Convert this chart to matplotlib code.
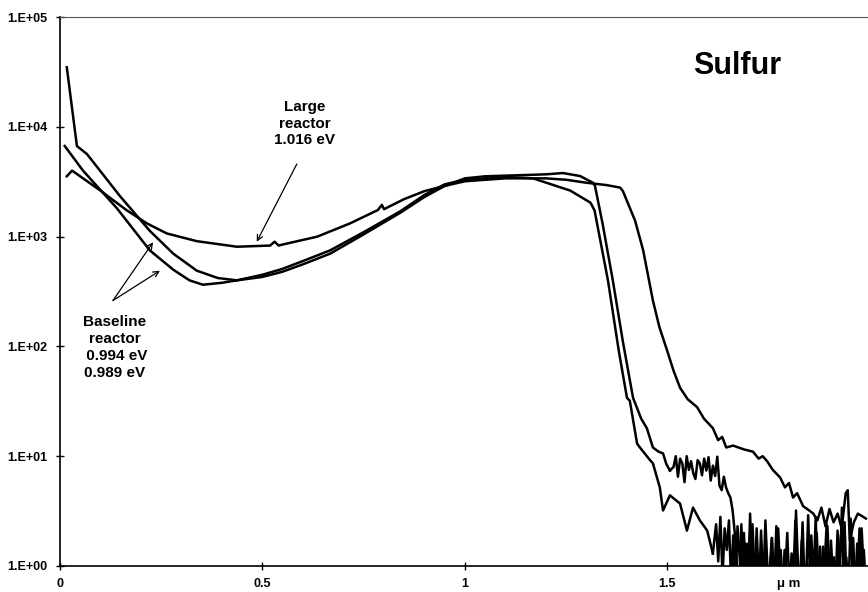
import matplotlib
matplotlib.use('Agg')
import matplotlib.pyplot as plt
import numpy as np

plt.rcParams['font.family'] = ['Liberation Sans', 'DejaVu Sans']
plt.rcParams['font.weight'] = 'bold'

# baseline reactor, curve 1 (highest at the start)
x_base1 = [0.017, 0.042, 0.067, 0.148, 0.222, 0.28, 0.338, 0.39, 0.437, 0.5, 0.55, 0.6, 0.667,
           0.75, 0.84, 0.9, 0.95, 1.0, 1.05, 1.143, 1.2, 1.242, 1.284, 1.316, 1.321,
           1.34, 1.365, 1.39, 1.415, 1.435, 1.449, 1.464, 1.478, 1.489, 1.497, 1.506]
y_base1 = [35000, 6700, 5650, 2350, 1130, 700, 490, 420, 400, 430, 480, 560, 700,
           1050, 1650, 2300, 2900, 3400, 3550, 3640, 3700, 3800, 3570, 3100, 2900,
           1300, 400, 110, 34, 22, 18, 12, 11, 10.6, 8.5, 7.4]
# noisy tail of curve 1
tail_base1 = [8, 10, 6.5, 9.5, 8.6, 5.8, 10, 7.5, 9, 7, 6.2, 9.2, 8.6, 6.7, 9.5, 7.4, 9.8, 6,
              8.2, 6.6, 9.9, 5.4, 4.9, 6.5, 5.2, 4.6, 4.2, 3.2, 2.0, 1.0, 0.6, 2.4, 0.7, 1.6,
              0.6, 3.0, 0.8, 0.6, 2.2, 0.7, 1.2, 0.6, 2.6, 0.9, 0.6, 1.8, 0.6, 2.3, 0.7, 1.4,
              0.6, 0.8, 2.0, 0.6, 1.3, 0.6, 3.2, 0.9, 0.7, 2.5, 0.6, 1.1, 0.6, 1.9, 0.7, 2.8,
              0.6, 1.5, 0.6, 0.9, 2.4, 0.6, 1.7, 0.7, 0.6, 2.1, 0.8, 3.4, 0.6, 1.2, 0.6, 2.7,
              0.7, 0.6, 1.6, 0.6, 2.2, 0.9, 0.6]
x_tail_base1 = np.linspace(1.515, 1.99, len(tail_base1))

# baseline reactor, curve 2
x_base2 = [0.012, 0.057, 0.14, 0.222, 0.28, 0.32, 0.353, 0.4, 0.437, 0.5, 0.55, 0.6, 0.667,
           0.75, 0.84, 0.9, 0.95, 1.0, 1.1, 1.168, 1.26, 1.31, 1.32, 1.353, 1.38, 1.40,
           1.407, 1.425, 1.432, 1.457, 1.464, 1.481, 1.489, 1.506, 1.531, 1.548, 1.563,
           1.58, 1.598, 1.612]
y_base2 = [6700, 4000, 1830, 750, 500, 400, 365, 380, 400, 450, 510, 600, 750,
           1100, 1700, 2400, 3000, 3300, 3500, 3400, 2630, 2040, 1730, 400, 90, 34,
           32, 13, 12, 9.2, 8.6, 5.2, 3.2, 4.4, 3.7, 2.1, 3.4, 2.6, 2.1, 1.3]
tail_base2 = [2.4, 1.1, 2.8, 0.8, 2.2, 1.4, 2.6, 0.7, 1.9, 0.6, 2.3, 1.2, 0.7, 2.0, 0.6, 1.6,
              0.6, 2.4, 0.8, 1.3, 0.6, 2.1, 0.7, 1.5, 0.6, 0.9, 1.8, 0.6, 0.7, 2.2, 0.8, 0.6,
              1.4, 0.7, 0.6, 1.1, 0.6, 2.6, 0.7, 0.6, 1.7, 0.6, 0.7, 2.9, 0.6, 1.3, 0.6, 2.0,
              0.7, 0.6, 1.5, 0.6, 2.3, 0.8, 0.6, 1.2, 0.6, 1.9, 0.6, 0.7, 2.5, 0.6, 1.0, 0.6,
              1.8, 0.6, 0.8, 2.2, 0.6, 1.4, 0.6]
x_tail_base2 = np.linspace(1.62, 1.99, len(tail_base2))

# large reactor
x_large = [0.017, 0.03, 0.1, 0.165, 0.215, 0.264, 0.338, 0.437, 0.519, 0.53, 0.54, 0.551,
           0.635, 0.716, 0.785, 0.795, 0.80, 0.85, 0.9, 0.95, 1.0, 1.1, 1.2, 1.25, 1.3,
           1.35, 1.383, 1.39, 1.42, 1.44, 1.464, 1.48, 1.499, 1.515, 1.531, 1.55, 1.573,
           1.59, 1.612, 1.625, 1.635, 1.645, 1.662, 1.675, 1.69, 1.711, 1.725, 1.735,
           1.746, 1.76, 1.778, 1.79, 1.80, 1.81, 1.82, 1.835, 1.85, 1.86, 1.87, 1.88,
           1.89, 1.90, 1.91, 1.92, 1.93, 1.94, 1.945, 1.95, 1.96, 1.97, 1.99]
y_large = [3550, 4000, 2630, 1740, 1320, 1070, 910, 810, 830, 900, 830, 850,
           1000, 1320, 1750, 1950, 1780, 2200, 2600, 2900, 3200, 3400, 3400, 3300, 3100,
           2950, 2800, 2600, 1400, 750, 262, 150, 92, 60, 42, 33, 28,
           22, 18, 14, 15, 12, 12.5, 12, 11.5, 11, 9.5, 10,
           9, 7.5, 6.4, 5.2, 5.7, 4.2, 4.6, 3.5, 3.2, 3.0, 2.6, 3.4,
           2.3, 3.3, 2.5, 3.0, 2.2, 4.6, 4.9, 1.7, 2.5, 3.0, 2.7]

xticks = [0, 0.5, 1, 1.5]
xtick_labels = ['0', '0.5', '1', '1.5']
yticks = [1, 10, 100, 1000, 10000, 100000]
ytick_labels = ['1.E+00', '1.E+01', '1.E+02', '1.E+03', '1.E+04', '1.E+05']

fig = plt.figure(figsize=(8.68, 5.92), dpi=100)
ax = fig.add_axes([0.069, 0.044, 0.931, 0.927])

lw = 1.8
ax.plot(x_base1, y_base1, color='black', lw=lw)
ax.plot([x_base1[-1]] + list(x_tail_base1), [y_base1[-1]] + tail_base1, color='black', lw=lw)
ax.plot(x_base2, y_base2, color='black', lw=lw)
ax.plot([x_base2[-1]] + list(x_tail_base2), [y_base2[-1]] + tail_base2, color='black', lw=lw)
ax.plot(x_large, y_large, color='black', lw=lw)

ax.set_yscale('log')
ax.set_xlim(0, 1.995)
ax.set_ylim(1, 1e5)
ax.set_xticks(xticks)
ax.set_xticklabels(xtick_labels)
ax.set_yticks(yticks)
ax.set_yticklabels(ytick_labels)
ax.minorticks_off()
ax.tick_params(direction='inout', length=6, width=1, labelsize=9, pad=6)
for lab in ax.get_xticklabels() + ax.get_yticklabels():
    lab.set_fontweight('bold')

ax.spines['right'].set_visible(False)
ax.spines['top'].set_linewidth(0.8)
ax.spines['top'].set_color('#555555')
ax.spines['left'].set_linewidth(1.2)
ax.spines['bottom'].set_linewidth(1.2)

ax.text(1.672, 3.6e4, 'Sulfur', fontsize=22, fontweight='bold', ha='center', va='center')

ax.text(0.605, 1.07e4, 'Large\nreactor\n1.016 eV', ha='center', va='center',
        fontsize=11, fontweight='bold', linespacing=1.25)
ax.annotate('', xy=(0.486, 900), xytext=(0.585, 4600),
            arrowprops=dict(arrowstyle='->', color='black', lw=0.9, shrinkA=0, shrinkB=0))

ax.text(0.136, 98, 'Baseline\nreactor\n 0.994 eV\n0.989 eV', ha='center', va='center',
        fontsize=11, fontweight='bold', linespacing=1.25)
ax.annotate('', xy=(0.23, 890), xytext=(0.131, 262),
            arrowprops=dict(arrowstyle='->', color='black', lw=0.9, shrinkA=0, shrinkB=0))
ax.annotate('', xy=(0.247, 490), xytext=(0.131, 262),
            arrowprops=dict(arrowstyle='->', color='black', lw=0.9, shrinkA=0, shrinkB=0))

ax.annotate('\u03bc m', xy=(1.8, 0), xycoords=('data', 'axes fraction'),
            xytext=(0, -9), textcoords='offset points', ha='center', va='top',
            fontsize=9.5, fontweight='bold')

fig.savefig('out.png', dpi=100)
